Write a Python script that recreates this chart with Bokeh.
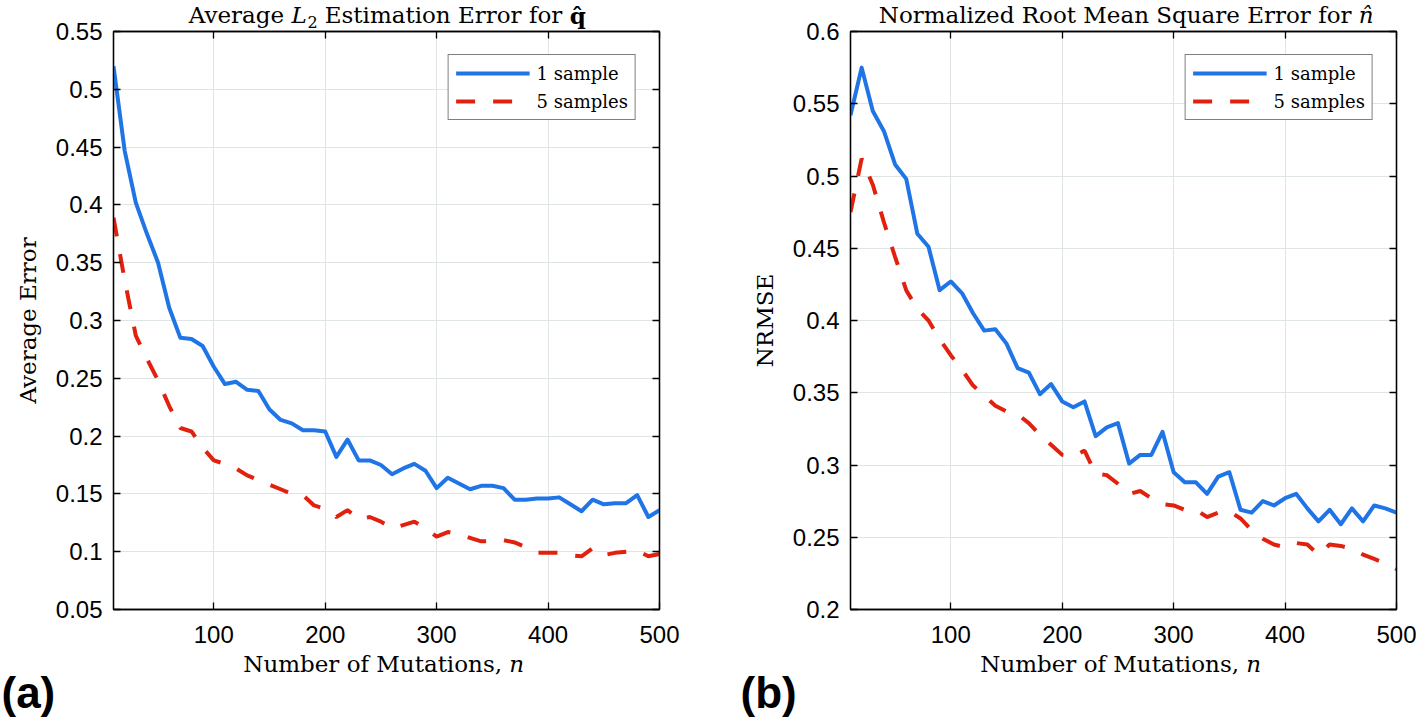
from bokeh.plotting import figure
from bokeh.models import (Range1d, FixedTicker, LinearAxis, Label, Legend, LegendItem,
                          CustomJSTickFormatter)
from bokeh.layouts import row, column
from bokeh.embed import file_html
from bokeh.resources import INLINE

# ---------------- data ----------------
N = [10, 20, 30, 40, 50, 60, 70, 80, 90, 100,
     110, 120, 130, 140, 150, 160, 170, 180, 190, 200,
     210, 220, 230, 240, 250, 260, 270, 280, 290, 300,
     310, 320, 330, 340, 350, 360, 370, 380, 390, 400,
     410, 420, 430, 440, 450, 460, 470, 480, 490, 500]

ERR_1 = [0.520, 0.447, 0.402, 0.375, 0.350, 0.311, 0.285, 0.284, 0.278, 0.260,
         0.245, 0.247, 0.240, 0.239, 0.223, 0.214, 0.211, 0.205, 0.205, 0.204,
         0.182, 0.197, 0.179, 0.179, 0.175, 0.167, 0.172, 0.176, 0.170, 0.155,
         0.164, 0.159, 0.154, 0.157, 0.157, 0.155, 0.145, 0.145, 0.146, 0.146,
         0.147, 0.141, 0.135, 0.145, 0.141, 0.142, 0.142, 0.149, 0.130, 0.136]

ERR_5 = [0.389, 0.335, 0.287, 0.267, 0.248, 0.226, 0.207, 0.204, 0.190, 0.179,
         0.176, 0.172, 0.166, 0.162, 0.158, 0.154, 0.150, 0.149, 0.140, 0.137,
         0.130, 0.136, 0.128, 0.130, 0.126, 0.120, 0.123, 0.126, 0.120, 0.113,
         0.117, 0.115, 0.112, 0.109, 0.109, 0.110, 0.108, 0.104, 0.099, 0.099,
         0.099, 0.097, 0.096, 0.103, 0.097, 0.099, 0.100, 0.101, 0.096, 0.098]

NRMSE_1 = [0.542, 0.575, 0.545, 0.531, 0.508, 0.498, 0.460, 0.451, 0.421, 0.427,
           0.419, 0.405, 0.393, 0.394, 0.384, 0.367, 0.364, 0.349, 0.356, 0.344,
           0.340, 0.344, 0.320, 0.326, 0.329, 0.301, 0.307, 0.307, 0.323, 0.295,
           0.288, 0.288, 0.280, 0.292, 0.295, 0.269, 0.267, 0.275, 0.272, 0.277,
           0.280, 0.270, 0.261, 0.269, 0.259, 0.270, 0.261, 0.272, 0.270, 0.267]

NRMSE_5 = [0.475, 0.512, 0.494, 0.468, 0.444, 0.421, 0.408, 0.400, 0.387, 0.376,
           0.366, 0.355, 0.348, 0.341, 0.337, 0.335, 0.329, 0.321, 0.314, 0.307,
           0.306, 0.310, 0.294, 0.293, 0.287, 0.280, 0.282, 0.277, 0.273, 0.272,
           0.269, 0.269, 0.264, 0.267, 0.268, 0.263, 0.255, 0.249, 0.245, 0.243,
           0.246, 0.245, 0.238, 0.245, 0.244, 0.242, 0.238, 0.235, 0.232, 0.228]

X_TICKS = [100, 200, 300, 400, 500]
Y_TICKS_A = [0.05, 0.1, 0.15, 0.2, 0.25, 0.3, 0.35, 0.4, 0.45, 0.5, 0.55]
Y_TICKS_B = [0.2, 0.25, 0.3, 0.35, 0.4, 0.45, 0.5, 0.55, 0.6]
SERIES_LABELS = ["1 sample", "5 samples"]

# ---------------- style / layout ----------------
BLUE = "#1f74e6"
RED = "#e2200e"
SERIF = "DejaVu Serif"
SANS = "Liberation Sans"
GRID = "#dfe5e5"
TXT = "23px"

PAGE_H = 718
COL_W = 708
FRAME_TOP = 31      # page y of the plot frames
FRAME_W = 546
FRAME_H = 578
OVERLAP = 14        # plot canvases start this far above the frames (over the title strip)
BOTTOM_PAD = 44     # room for x tick labels
BOT_OVERLAP = 8     # bottom strip starts this far above the plot canvases' bottom
PLOT_H = OVERLAP + FRAME_H + BOTTOM_PAD
TOP_H = FRAME_TOP
BOT_H = PAGE_H - (TOP_H - OVERLAP) - (PLOT_H - BOT_OVERLAP)
LEFT_A = 113
LEFT_B = 142


def style_axis(ax, show_labels=True):
    ax.axis_line_color = "black"
    ax.axis_line_width = 1.3
    ax.major_tick_line_color = "black"
    ax.major_tick_line_width = 1.3
    ax.major_tick_in = 7
    ax.major_tick_out = 0
    ax.minor_tick_line_color = None
    if show_labels:
        ax.major_label_text_font = SANS
        ax.major_label_text_font_size = "24px"
        ax.major_label_text_color = "black"
    else:
        ax.major_label_text_font_size = "1px"
        ax.major_label_text_color = None
        ax.major_label_standoff = 0


def strip(height, fill):
    s = figure(width=COL_W, height=height, x_range=Range1d(0, COL_W), y_range=Range1d(0, height),
               output_backend="svg", toolbar_location=None, title=None, min_border=0,
               x_axis_type=None, y_axis_type=None,
               background_fill_color=fill, border_fill_color=fill)
    s.outline_line_color = None
    return s


def lbl(s, x, base_from_top, text, size=TXT, style="normal", align="left", font=SERIF):
    """Place text so that its baseline sits base_from_top px below the strip's top."""
    fs = float(size.replace("px", ""))
    h = s.y_range.end
    s.add_layout(Label(x=x, y=h - base_from_top + 0.32 * fs, text=text,
                       text_font=font, text_font_size=size, text_font_style=style,
                       text_align=align, text_baseline="alphabetic", text_color="black"))


def panel(left, y_lo, y_hi, yticks, ylabel, y1, y5):
    p = figure(width=COL_W, height=PLOT_H, x_range=Range1d(10, 500), y_range=Range1d(y_lo, y_hi),
               output_backend="svg", toolbar_location=None, title=None,
               min_border_left=left, min_border_right=COL_W - left - FRAME_W,
               min_border_top=OVERLAP, min_border_bottom=BOTTOM_PAD,
               background_fill_color="white", border_fill_color=None)
    p.outline_line_color = "black"
    p.outline_line_width = 1.3
    fmt = CustomJSTickFormatter(code="return Number(tick.toFixed(2)).toString();")
    blank = CustomJSTickFormatter(code="return '';")
    xt = FixedTicker(ticks=X_TICKS)
    yt = FixedTicker(ticks=yticks)
    p.xaxis.ticker = xt
    p.yaxis.ticker = yt
    p.xaxis.formatter = fmt
    p.yaxis.formatter = fmt
    for ax in list(p.xaxis) + list(p.yaxis):
        style_axis(ax)
    p.xaxis.major_label_standoff = 16
    p.yaxis.major_label_standoff = 11
    p.yaxis.axis_label = ylabel
    p.yaxis.axis_label_text_font = SERIF
    p.yaxis.axis_label_text_font_size = TXT
    p.yaxis.axis_label_text_font_style = "normal"
    p.yaxis.axis_label_text_color = "black"
    p.yaxis.axis_label_standoff = 12

    rax = LinearAxis(ticker=yt, formatter=blank)
    style_axis(rax, show_labels=False)
    p.add_layout(rax, "right")
    tax = LinearAxis(ticker=xt, formatter=blank)
    style_axis(tax, show_labels=False)
    p.add_layout(tax, "above")

    p.xgrid.ticker = xt
    p.ygrid.ticker = yt
    p.grid.grid_line_color = GRID
    p.grid.grid_line_width = 1

    r5 = p.line(N, y5, line_color=RED, line_width=4, line_dash="19 18")
    r1 = p.line(N, y1, line_color=BLUE, line_width=4, line_join="round")

    leg = Legend(items=[LegendItem(label=SERIES_LABELS[0], renderers=[r1]),
                        LegendItem(label=SERIES_LABELS[1], renderers=[r5])],
                 location="top_right", margin=23, padding=7, spacing=6,
                 glyph_width=74, glyph_height=22, label_height=22, label_standoff=7,
                 label_text_font=SERIF, label_text_font_size="18px", label_text_color="black",
                 border_line_color="black", border_line_width=1.3,
                 background_fill_color="white", background_fill_alpha=1.0)
    p.add_layout(leg)
    return p


# ---------------- panels ----------------
pa = panel(LEFT_A, 0.05, 0.55, Y_TICKS_A, "Average Error", ERR_1, ERR_5)
pb = panel(LEFT_B, 0.2, 0.6, Y_TICKS_B, "NRMSE", NRMSE_1, NRMSE_5)

# ---------------- titles ----------------
ta = strip(TOP_H, "white")
tb = strip(TOP_H, "white")
tbase = 22
ca = LEFT_A + FRAME_W / 2
cb = LEFT_B + FRAME_W / 2
lbl(ta, ca - 102.4, tbase, "Average", align="right")
lbl(ta, ca - 95.1, tbase, "L", style="italic")
lbl(ta, ca - 79.1, tbase + 5, "2", size="16px")
lbl(ta, ca - 61.8, tbase, "Estimation Error for")
lbl(ta, ca + 183.2, tbase, "q\u0302", style="bold")
lbl(tb, cb + 228, tbase, "Normalized Root Mean Square Error for", align="right")
lbl(tb, cb + 235.3, tbase, "n\u0302", style="italic")

# ---------------- x labels and panel letters ----------------
ba = strip(BOT_H, None)
bb = strip(BOT_H, None)
bot_top = PAGE_H - BOT_H
xbase = 671 - bot_top
for s, c in ((ba, ca), (bb, cb)):
    lbl(s, c + 115.5, xbase, "Number of Mutations,", align="right")
    lbl(s, c + 122.8, xbase, "n", style="italic")
lbl(ba, 1, 706 - bot_top, "(a)", size="44px", style="bold", font=SANS)
lbl(bb, 32, 706 - bot_top, "(b)", size="44px", style="bold", font=SANS)

plots = row(pa, pb, margin=(-OVERLAP, 0, 0, 0))
bottom = row(ba, bb, margin=(-BOT_OVERLAP, 0, 0, 0))
layout = column(row(ta, tb), plots, bottom)
open("out.html", "w").write(file_html(layout, INLINE))
